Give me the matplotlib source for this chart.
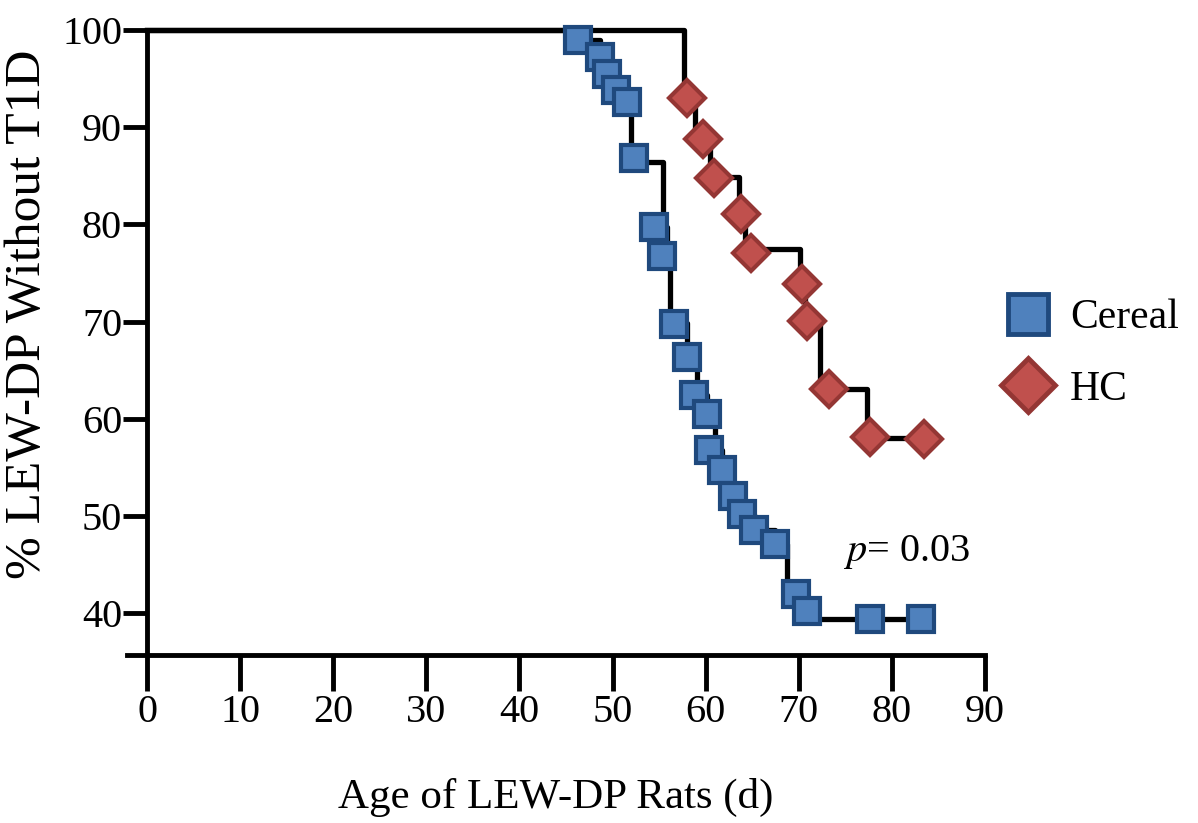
import matplotlib.pyplot as plt
from matplotlib.lines import Line2D

plt.rcParams['font.family'] = ['Liberation Serif', 'DejaVu Serif']
plt.rcParams['mathtext.fontset'] = 'stix'

# Kaplan-Meier steps (time, % without T1D)
cereal_t = [0, 46.2, 48.6, 49.4, 50.4, 51.5, 52.0, 55.4, 55.8, 56.2, 58.0, 59.1, 60.1, 61.0,
            61.8, 62.9, 63.9, 65.2, 67.4, 68.7, 70.9, 83.1]
cereal_s = [100, 99.0, 97.2, 95.5, 93.8, 92.6, 86.4, 79.7, 76.8, 69.9, 66.4, 62.5, 60.5, 56.8,
            54.7, 52.1, 50.2, 48.6, 47.1, 42.0, 39.4, 39.4]
hc_t = [0, 57.7, 58.9, 60.5, 63.6, 64.2, 70.1, 70.7, 72.3, 77.3, 83.4]
hc_s = [100, 93.0, 88.8, 84.9, 81.1, 77.5, 73.9, 70.1, 63.1, 58.0, 58.0]

# symbol positions
cereal_mx = [46.3, 48.7, 49.4, 50.4, 51.5, 52.3, 54.5, 55.3, 56.6, 58.0, 58.7, 60.1, 60.4,
             61.8, 62.9, 63.9, 65.2, 67.4, 69.7, 70.9, 77.7, 83.1]
cereal_my = [99.0, 97.2, 95.5, 93.8, 92.6, 86.8, 79.7, 76.8, 69.8, 66.4, 62.5, 60.5, 56.8,
             54.7, 52.1, 50.2, 48.6, 47.1, 42.0, 40.2, 39.4, 39.4]
hc_mx = [58.0, 59.7, 60.9, 63.8, 64.9, 70.3, 70.9, 73.2, 77.7, 83.4]
hc_my = [93.0, 88.8, 84.8, 81.1, 77.1, 73.9, 70.1, 63.1, 58.1, 57.9]

blue_face, blue_edge = '#4f81bd', '#1f497d'
red_face, red_edge = '#c0504d', '#943634'

fig = plt.figure(figsize=(11.98, 8.23), dpi=100)
ax = fig.add_axes([127 / 1198, 1 - 655 / 823, 858 / 1198, 625 / 823])

ax.step(cereal_t, cereal_s, where='post', color='black', lw=3.8, clip_on=False, zorder=2)
ax.step(hc_t, hc_s, where='post', color='black', lw=3.8, clip_on=False, zorder=2)

for x, y in zip(cereal_mx, cereal_my):
    ax.plot(x, y, marker='s', ms=19, mfc=blue_face, mec=blue_edge, mew=3,
            clip_on=False, zorder=3)
for x, y in zip(hc_mx, hc_my):
    ax.plot(x, y, marker='D', ms=18, mfc=red_face, mec=red_edge, mew=3,
            clip_on=False, zorder=3)

ax.set_xlim(-2.15, 90)
ax.set_ylim(35.7, 100)
ax.spines['left'].set_position(('data', 0))
ax.spines['left'].set_bounds(35.7, 100)
ax.spines['top'].set_visible(False)
ax.spines['right'].set_visible(False)
for s in ['left', 'bottom']:
    ax.spines[s].set_linewidth(3.5)
    ax.spines[s].set_capstyle('projecting')

ax.set_xticks(range(0, 91, 10))
ax.set_yticks(range(40, 101, 10))
ax.tick_params(axis='x', length=26, width=3.5, labelsize=29, pad=2)
ax.tick_params(axis='y', length=17, width=3.5, labelsize=29, pad=1)

ax.set_xlabel('Age of LEW-DP Rats (d)', fontsize=31, labelpad=34)
ax.set_ylabel('% LEW-DP Without T1D', fontsize=37)
ax.yaxis.set_label_coords(-0.088, 0.545)

ax.text(74.8, 46.3, r'$p$= 0.03', fontsize=29, ha='left', va='center')

handles = [Line2D([], [], ls='none', marker='s', ms=29, mfc=blue_face, mec=blue_edge, mew=3.5),
           Line2D([], [], ls='none', marker='D', ms=28, mfc=red_face, mec=red_edge, mew=3.5)]
fig.legend(handles, ['Cereal', 'HC'], loc='center left', bbox_to_anchor=(0.806, 0.570),
           frameon=False, fontsize=30, handletextpad=0.4, labelspacing=0.8,
           handlelength=1.2)

fig.savefig('out.png', dpi=100)
